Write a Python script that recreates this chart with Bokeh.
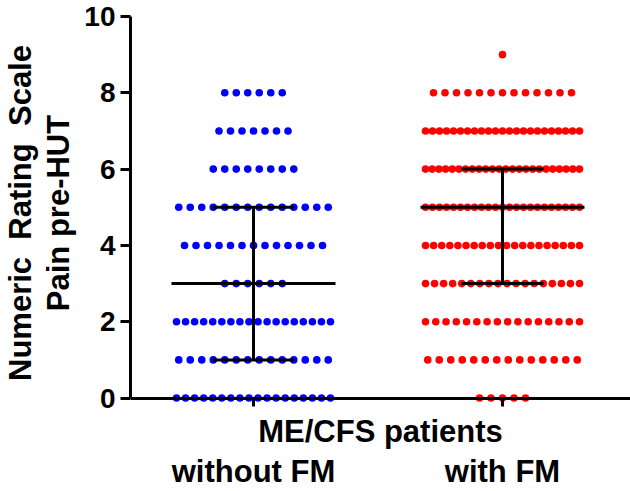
import numpy as np
from bokeh.plotting import figure
from bokeh.models import Range1d, FixedTicker, LinearAxis, Title
from bokeh.embed import file_html
from bokeh.resources import INLINE

# ---- data ----
groups = ["without FM", "with FM"]
group_x = [1, 2]
scores = [0, 1, 2, 3, 4, 5, 6, 7, 8, 9]
counts_without_fm = [18, 14, 18, 6, 13, 14, 8, 7, 6, 0]
counts_with_fm = [5, 14, 16, 18, 20, 23, 24, 23, 13, 1]
group_colors = ["#0000FF", "#FF0000"]
y_ticks = [0, 2, 4, 6, 8, 10]
x_title = "ME/CFS patients"
y_title_inner = "Pain pre-HUT"
y_title_outer = "Numeric\u00a0 Rating\u00a0 Scale"

# ---- layout constants ----
FONT = "Liberation Sans"
PX_PER_X = 249.0        # pixels per x unit
DOT_STEP = 11.5         # px between neighbouring dots
MAX_SPAN = 154.0        # px max width of a row of dots
MED_HALF = 82.0 / PX_PER_X
CAP_HALF = 41.0 / PX_PER_X

p = figure(width=630, height=491, output_backend="svg", toolbar_location=None,
           x_range=Range1d(0.506, 0.506 + 500 / PX_PER_X),
           y_range=Range1d(-0.3, 10),
           min_border_left=130, min_border_right=0,
           min_border_top=16, min_border_bottom=82)
p.outline_line_color = None
p.grid.visible = False
p.background_fill_color = "white"
p.border_fill_color = "white"

def dot_positions(cx, counts):
    xs, ys = [], []
    for s, n in zip(scores, counts):
        if n == 0:
            continue
        step = DOT_STEP if n == 1 else min(DOT_STEP, MAX_SPAN / (n - 1))
        offs = (np.arange(n) - (n - 1) / 2) * step / PX_PER_X
        xs += list(cx + offs)
        ys += [s] * n
    return xs, ys

all_counts = [counts_without_fm, counts_with_fm]
for cx, counts, col in zip(group_x, all_counts, group_colors):
    xs, ys = dot_positions(cx, counts)
    p.scatter(xs, ys, size=7.6, fill_color=col, line_color=None)

# median and interquartile range
x0s, y0s, x1s, y1s = [], [], [], []
for cx, counts in zip(group_x, all_counts):
    vals = np.repeat(scores, counts)
    q1, med, q3 = np.percentile(vals, [25, 50, 75])
    x0s += [cx - MED_HALF, cx, cx - CAP_HALF, cx - CAP_HALF]
    x1s += [cx + MED_HALF, cx, cx + CAP_HALF, cx + CAP_HALF]
    y0s += [med, q1, q1, q3]
    y1s += [med, q3, q1, q3]
p.segment(x0=x0s, y0=y0s, x1=x1s, y1=y1s, line_color="black", line_width=3)

def bold(ax, size):
    ax.major_label_text_font = FONT
    ax.major_label_text_font_style = "bold"
    ax.major_label_text_font_size = size
    ax.major_label_text_color = "black"
    ax.axis_label_text_font = FONT
    ax.axis_label_text_font_style = "bold"
    ax.axis_label_text_color = "black"

# y axis
ya = p.yaxis[0]
ya.ticker = FixedTicker(ticks=y_ticks)
ya.bounds = (0, 10)
ya.axis_line_width = 3
ya.major_tick_line_width = 3
ya.major_tick_out = 10
ya.major_tick_in = 0
ya.minor_tick_line_color = None
ya.major_label_standoff = 5
bold(ya, "28px")

for txt, so in [(y_title_inner, 12), (y_title_outer, -11)]:
    p.add_layout(Title(text=txt, align="center", standoff=so,
                       text_font=FONT, text_font_style="bold",
                       text_font_size="31px", text_color="black"), "left")

# x axis line crossing at 0 (ticks only)
xa = p.xaxis[0]
xa.fixed_location = 0
xa.ticker = FixedTicker(ticks=group_x)
xa.major_label_overrides = {gx: "" for gx in group_x}
xa.axis_line_width = 3
xa.major_tick_line_width = 3
xa.major_tick_out = 8
xa.major_tick_in = 0
xa.minor_tick_line_color = None

# axis title below the plot
xa2 = LinearAxis(ticker=FixedTicker(ticks=[]), axis_line_color=None,
                 major_tick_out=0, major_tick_in=0, minor_tick_out=0,
                 minor_tick_in=0, major_label_standoff=0,
                 axis_label=x_title, axis_label_standoff=4)
bold(xa2, "31px")
xa2.axis_label_text_font_size = "31px"
p.add_layout(xa2, "below")

# group labels below the title
xa3 = LinearAxis(ticker=FixedTicker(ticks=group_x), axis_line_color=None,
                 major_tick_out=0, major_tick_in=0, minor_tick_out=0,
                 minor_tick_in=0, major_label_standoff=2,
                 major_label_overrides={gx: g for gx, g in zip(group_x, groups)})
bold(xa3, "31px")
p.add_layout(xa3, "below")

open("out.html", "w").write(file_html(p, INLINE))
